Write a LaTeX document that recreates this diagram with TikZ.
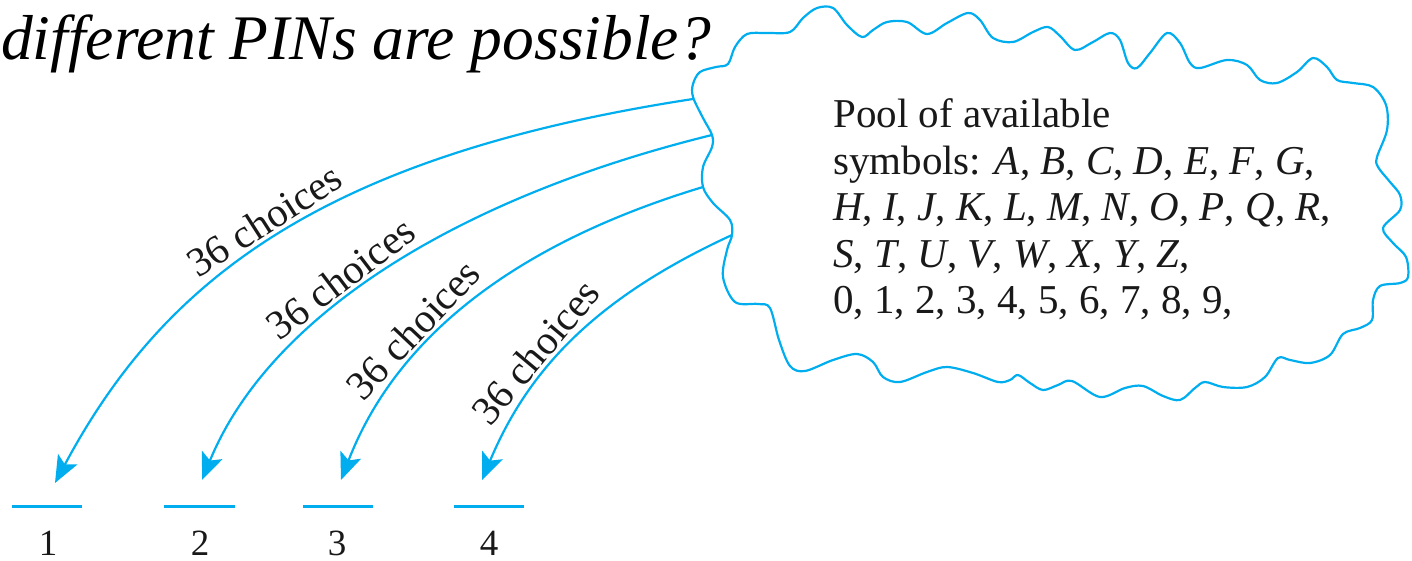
\documentclass[tikz,border=0pt]{standalone}
\usepackage{fontspec}
\setmainfont{Liberation Serif}
\usetikzlibrary{arrows.meta}
\definecolor{pcyan}{RGB}{0,174,239}
\newcommand\myit[1]{\textit{#1}}
\begin{document}
\begin{tikzpicture}[x=1pt,y=-1pt,
  cloudline/.style={draw=pcyan,line width=2.2pt,line join=round},
  arr/.style={draw=pcyan,line width=2.2pt,-{Stealth[length=27pt,width=22pt,inset=6pt]}, fill=none},
  lbl/.style={sloped,above,inner sep=4pt,font=\fontsize{41}{46}\selectfont,text=black!90},
  blank/.style={inner sep=0pt,minimum width=70pt,minimum height=0pt},
  blankline/.style={draw=pcyan,line width=3pt},
  num/.style={anchor=base,inner sep=0pt,font=\fontsize{37}{40}\selectfont,text=black!90},
  titletext/.style={anchor=base west,inner sep=0pt,font=\fontsize{63.5}{70}\selectfont\itshape},
  pooltext/.style={anchor=north west,inner sep=0pt,align=left,font=\fontsize{41}{46.5}\selectfont,text=black!90}
]
\useasboundingbox (0,0) rectangle (1412,561);

% title
\node[titletext] (title) at (1,60) {different PINs are possible?};

% cloud outline
\draw[cloudline] plot[smooth cycle,tension=0.55] coordinates {
(693,97) (693,84) (700,72) (716,67) (728,64) (735,47) (747,34) (767,33) (790,32) (803,18) (817,8) (833,8) (847,25) (862,37) (873,30) (887,22) (907,22) (927,34) (947,23) (968,13) (980,20) (993,38) (1013,42) (1033,32) (1048,27) (1060,36) (1075,50) (1093,42) (1110,33) (1120,40) (1128,63) (1137,68) (1150,53) (1167,33) (1180,43) (1190,63) (1200,68) (1227,60) (1247,65) (1260,80) (1277,83) (1297,72) (1313,58) (1327,67) (1337,80) (1353,83) (1373,87) (1386,105) (1387,130) (1377,157) (1378,167) (1390,182) (1400,195) (1400,210) (1383,228) (1393,243) (1406,257) (1408,277) (1400,283) (1380,286) (1373,300) (1372,320) (1360,328) (1343,334) (1330,355) (1310,363) (1290,360) (1278,358) (1265,377) (1247,387) (1223,387) (1205,382) (1195,388) (1180,400) (1163,396) (1143,386) (1125,388) (1100,397) (1072,381) (1058,385) (1043,390) (1030,383) (1018,375) (1010,380) (998,382) (973,373) (947,367) (927,372) (900,382) (883,377) (873,362) (857,354) (833,360) (805,371) (790,366) (779,340) (770,308) (758,304) (735,302) (723,277) (727,250) (732,235) (730,220) (713,203) (703,187) (703,167) (712,147) (712,135) (703,118)};

\node[pooltext] (pool) at (833,98.5) {Pool of available\\
symbols: \myit{A}, \myit{B}, \myit{C}, \myit{D}, \myit{E}, \myit{F}, \myit{G},\\
\myit{H}, \myit{I}, \myit{J}, \myit{K}, \myit{L}, \myit{M}, \myit{N}, \myit{O}, \myit{P}, \myit{Q}, \myit{R},\\
\myit{S}, \myit{T}, \myit{U}, \myit{V}, \myit{W}, \myit{X}, \myit{Y}, \myit{Z},\\
0, 1, 2, 3, 4, 5, 6, 7, 8, 9,};

% arrow start points on the cloud
\coordinate (c1) at (693,99);
\coordinate (c2) at (712,135);
\coordinate (c3) at (703,187);
\coordinate (c4) at (732,235);

% slots
\node[blank] (b1) at (47,506) {};
\node[blank] (b2) at (199.5,506) {};
\node[blank] (b3) at (338,506) {};
\node[blank] (b4) at (489,506) {};
\foreach \i in {1,2,3,4} \draw[blankline] (b\i.west) -- (b\i.east);
\node[num] (n1) at (48,555) {1};
\node[num] (n2) at (200,555) {2};
\node[num] (n3) at (337,555) {3};
\node[num] (n4) at (489,555) {4};

% arrow tips
\coordinate (t1) at (55,483);
\coordinate (t2) at (202,480);
\coordinate (t3) at (341,480);
\coordinate (t4) at (482,480);

\draw[arr] (c1) .. controls (321,156) and (163,281) .. (t1) node[lbl,pos=0.5] {36 choices};
\draw[arr] (c2) .. controls (460,197) and (270,314) .. (t2) node[lbl,pos=0.57] {36 choices};
\draw[arr] (c3) .. controls (511,245) and (395,340) .. (t3) node[lbl,pos=0.63] {36 choices};
\draw[arr] (c4) .. controls (595,298) and (528,370) .. (t4) node[lbl,pos=0.6] {36 choices};
\end{tikzpicture}
\end{document}
